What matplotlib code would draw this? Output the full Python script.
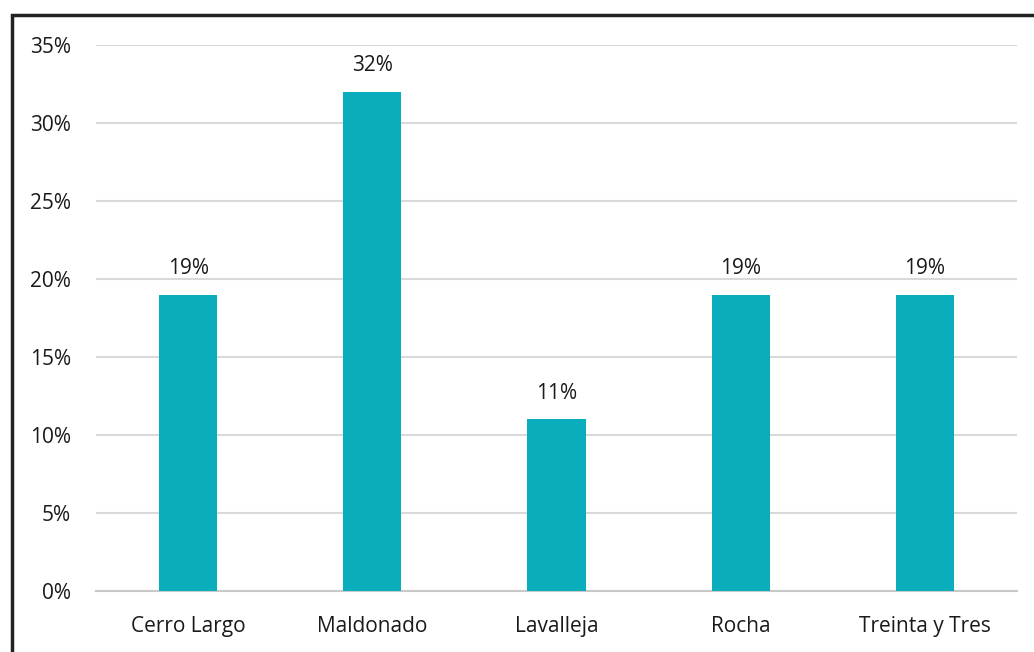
import matplotlib
import matplotlib.pyplot as plt
from matplotlib.patches import Rectangle
from matplotlib.ticker import PercentFormatter

matplotlib.use("Agg")
plt.rcParams['font.family'] = ['Open Sans', 'DejaVu Sans']

departamentos = ["Cerro Largo", "Maldonado", "Lavalleja", "Rocha", "Treinta y Tres"]
porcentajes = [19, 32, 11, 19, 19]
yticks = [0, 5, 10, 15, 20, 25, 30, 35]

fig = plt.figure(figsize=(10.34, 6.52), dpi=100)
ax = fig.add_axes([0.0928, 0.0936, 0.8908, 0.8374])

x = range(len(departamentos))
bars = ax.bar(x, porcentajes, width=0.315, color="#0AADBB", zorder=3)
for b, v in zip(bars, porcentajes):
    ax.text(b.get_x() + b.get_width() / 2, v + 1.0, f"{v}%",
            ha="center", va="bottom", fontsize=15, color="#1a1a1a")

ax.set_xlim(-0.5, len(departamentos) - 0.5)
ax.set_ylim(0, 35)
ax.set_yticks(yticks)
ax.yaxis.set_major_formatter(PercentFormatter(decimals=0))
ax.set_xticks(list(x))
ax.set_xticklabels(departamentos)
ax.tick_params(axis="both", length=0, labelsize=15, colors="#1a1a1a")
ax.tick_params(axis="y", pad=18)
ax.tick_params(axis="x", pad=18)
ax.grid(axis="y", color="#D9D9D9", linewidth=1.5, zorder=0)
for s in ["top", "right", "left"]:
    ax.spines[s].set_visible(False)
ax.spines["bottom"].set_color("#C8C8C8")
ax.spines["bottom"].set_linewidth(1.5)

# chart frame, running off the right and bottom edges
fig.patches.append(Rectangle((0.0115, -0.05), 1.2, 1.05 - 0.0230,
                             transform=fig.transFigure, fill=False,
                             edgecolor="#222222", linewidth=2.5))

plt.savefig("out.png")
